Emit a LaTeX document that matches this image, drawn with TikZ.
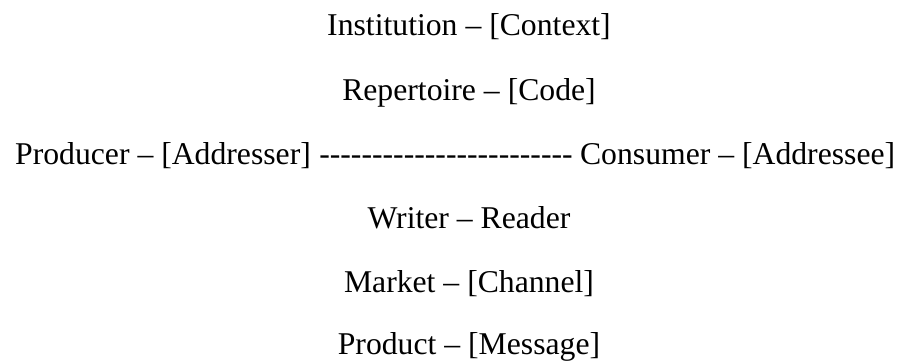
\documentclass[tikz,border=0pt]{standalone}
\usepackage{fontspec}
\setmainfont{Liberation Serif}
\usetikzlibrary{positioning}

\begin{document}
\begin{tikzpicture}[x=1pt, y=-1pt,
        lbl/.style={inner sep=0pt, anchor=base, font=\fontsize{31.7}{38}\selectfont},
      ]
      \useasboundingbox (0,0) rectangle (904,360);
      \node[lbl] (institution) at (469,35) {Institution -- [Context]};
      \node[lbl] (repertoire) at (469,100) {Repertoire -- [Code]};
      \node[lbl] (link) at (446,164) {-{}-{}-{}-{}-{}-{}-{}-{}-{}-{}-{}-{}-{}-{}-{}-{}-{}-{}-{}-{}-{}-{}-{}-};
      \node[lbl, anchor=base east] (producer) at ([xshift=-8pt]link.base west) {Producer -- [Addresser]};
      \node[lbl, anchor=base west] (consumer) at ([xshift=7pt]link.base east) {Consumer -- [Addressee]};
      \node[lbl] (writer) at (469,228) {Writer -- Reader};
      \node[lbl] (market) at (469,292) {Market -- [Channel]};
      \node[lbl] (product) at (469,354) {Product -- [Message]};
    \end{tikzpicture}
\end{document}
